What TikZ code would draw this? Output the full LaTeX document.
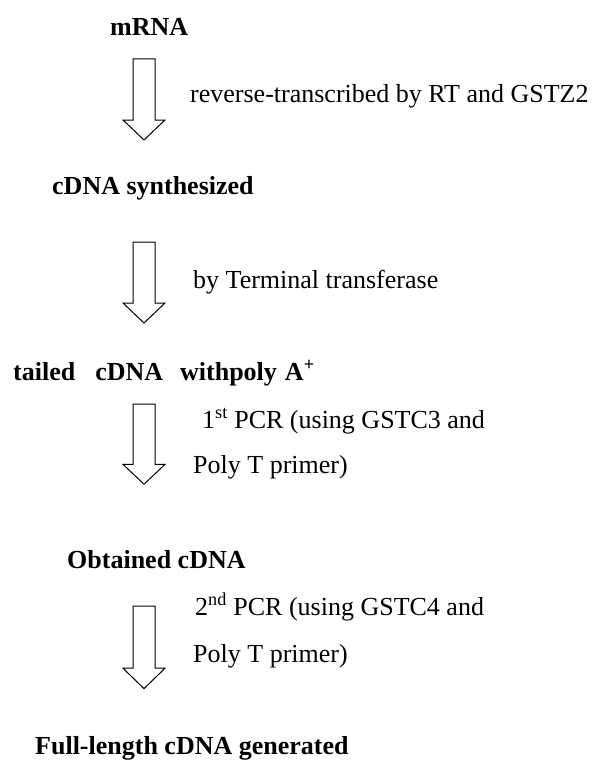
\documentclass[tikz,border=0pt]{standalone}
\usepackage{fontspec}
\setmainfont{Liberation Serif}
\begin{document}
\begin{tikzpicture}[x=1pt,y=-1pt,
  stage/.style={anchor=base west,inner sep=0pt,font=\fontsize{26}{30}\selectfont\bfseries},
  note/.style={anchor=base west,inner sep=0pt,font=\fontsize{26}{30}\selectfont},
  fatarrow/.pic={\draw[line width=1pt,line join=miter,fill=white]
     (-11,0) -- (11,0) -- (11,61) -- (21,61) -- (0,81) -- (-21,61) -- (-11,61) -- cycle;}]
\useasboundingbox (0,0) rectangle (600,760);
% stages
\node[stage] (mrna) at (110,36) {mRNA};
\node[stage] (cdna) at (52,194) {cDNA synthesized};
\node[stage] (tailed) at (13,380) {tailed\hspace{20pt}cDNA\hspace{17pt}withpoly\hspace{8pt}A\textsuperscript{+}};
\node[stage] (obtained) at (67,568) {Obtained cDNA};
\node[stage] (full) at (35,754) {Full-length cDNA generated};
% labels
\node[note] (l1) at (190,102) {reverse-transcribed by RT and GSTZ2};
\node[note] (l2) at (193,288) {by Terminal transferase};
\node[note] (l3a) at (202,428) {1\textsuperscript{st} PCR (using GSTC3 and};
\node[note] (l3b) at (193,473) {Poly T primer)};
\node[note] (l4a) at (195,615) {2\textsuperscript{nd} PCR (using GSTC4 and};
\node[note] (l4b) at (193,662) {Poly T primer)};
% arrow anchors
\coordinate (a1) at (144,59);
\coordinate (a2) at (144,242);
\coordinate (a3) at (144,404);
\coordinate (a4) at (144,606);
\pic at (a1) {fatarrow};
\pic at (a2) {fatarrow};
\pic[yscale=0.99] at (a3) {fatarrow};
\pic[yscale=1.02] at (a4) {fatarrow};
\end{tikzpicture}
\end{document}
